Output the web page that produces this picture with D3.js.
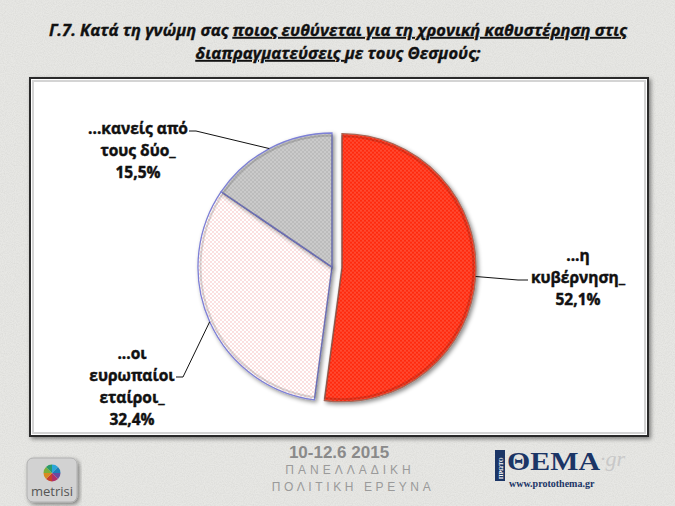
<!DOCTYPE html>
<html>
<head>
<meta charset="utf-8">
<script src="https://cdn.jsdelivr.net/npm/d3@7"></script>
<style>
  body { margin: 0; background: #e6e6e3; }
  svg { display: block; }
</style>
</head>
<body>
<div id="chart"></div>
<script>
// data
var categories = ["...η κυβέρνηση_", "...οι ευρωπαίοι εταίροι_", "...κανείς από τους δύο_"];
var values = [52.1, 32.4, 15.5];
var labelLines = [["...η", "κυβέρνηση_"], ["...οι", "ευρωπαίοι", "εταίροι_"], ["...κανείς από", "τους δύο_"]];
var sliceFills = ["url(#dotsRed)", "url(#dotsWhite)", "url(#dotsGray)"];
var sliceStrokes = ["#a86656", "#7d80d6", "#7d80d6"];

var width = 675, height = 506;
var cx = 332, cy = 267, radius = 134;

var grLocale = d3.formatLocale({decimal: ",", thousands: ".", grouping: [3], currency: ["", "€"]});
var pct = function(v) { return grLocale.format(".1f")(v) + "%"; };

var svg = d3.select("#chart").append("svg")
  .attr("width", width)
  .attr("height", height);

var defs = svg.append("defs");

// paper-like background noise
var noise = defs.append("filter").attr("id", "noise").attr("x", 0).attr("y", 0).attr("width", "100%").attr("height", "100%");
noise.append("feTurbulence").attr("type", "fractalNoise").attr("baseFrequency", 0.9).attr("numOctaves", 2).attr("seed", 3);
noise.append("feColorMatrix").attr("type", "matrix")
  .attr("values", "0 0 0 0 0.55  0 0 0 0 0.55  0 0 0 0 0.53  0 0 0 0.9 -0.3");

var shadow = defs.append("filter").attr("id", "shadow").attr("x", "-10%").attr("y", "-10%").attr("width", "120%").attr("height", "120%");
shadow.append("feDropShadow").attr("dx", 2).attr("dy", 2).attr("stdDeviation", 2).attr("flood-color", "#000").attr("flood-opacity", 0.45);

function dotPattern(id, base, dot, r) {
  var p = defs.append("pattern").attr("id", id)
    .attr("patternUnits", "userSpaceOnUse").attr("width", 4).attr("height", 4);
  p.append("rect").attr("width", 4).attr("height", 4).attr("fill", base);
  p.append("circle").attr("cx", 1).attr("cy", 1).attr("r", r).attr("fill", dot);
  p.append("circle").attr("cx", 3).attr("cy", 3).attr("r", r).attr("fill", dot);
}
dotPattern("dotsRed", "#ff2a10", "#ff7460", 0.8);
dotPattern("dotsWhite", "#ffffff", "#f4a6a6", 0.65);
dotPattern("dotsGray", "#bcbcbc", "#dcdcdc", 0.8);

svg.append("rect").attr("width", width).attr("height", height).attr("fill", "#e7e7e4");
svg.append("rect").attr("width", width).attr("height", height).attr("filter", "url(#noise)").attr("opacity", 0.6);

// title
var title = svg.append("text")
  .attr("text-anchor", "middle")
  .style("font-family", "'Open Sans', sans-serif")
  .style("font-weight", "bold")
  .style("font-style", "italic")
  .style("font-size", "16px")
  .attr("fill", "#111")
  .attr("stroke", "#111")
  .attr("stroke-width", 0.35);

var t1 = title.append("tspan").attr("x", 338).attr("y", 36);
t1.append("tspan").text("Γ.7. Κατά τη γνώμη σας ");
t1.append("tspan").style("text-decoration", "underline").text("ποιος ευθύνεται για τη χρονική καθυστέρηση στις");
var t2 = title.append("tspan").attr("x", 338).attr("y", 59);
t2.append("tspan").style("text-decoration", "underline").text("διαπραγματεύσεις ");
t2.append("tspan").text("με τους Θεσμούς;");

// fit the first title line to the width seen in the picture
var w1 = t1.node().getComputedTextLength();
title.style("font-size", (16 * 578 / w1).toFixed(2) + "px");

// chart frame
svg.append("rect")
  .attr("x", 30).attr("y", 78).attr("width", 618).attr("height", 358)
  .attr("fill", "#fff")
  .attr("stroke", "#2a2a2a").attr("stroke-width", 2)
  .attr("filter", "url(#shadow)");
svg.append("rect")
  .attr("x", 33).attr("y", 81).attr("width", 612).attr("height", 352)
  .attr("fill", "none")
  .attr("stroke", "#d4d4d4").attr("stroke-width", 2);

// pie
var pie = d3.pie().sort(null).value(function(d) { return d; });
var arcs = pie(values);
var arc = d3.arc().innerRadius(0).outerRadius(radius);
var innerArc = d3.arc().innerRadius(0).outerRadius(radius - 2.5);
var explode = [10, 0, 0];

var pieG = svg.append("g").attr("transform", "translate(" + cx + "," + cy + ")");

var slices = pieG.selectAll(".slice")
  .data(arcs)
  .enter().append("g")
  .attr("class", "slice")
  .attr("transform", function(d, i) {
    var a = (d.startAngle + d.endAngle) / 2;
    return "translate(" + (Math.sin(a) * explode[i]) + "," + (-Math.cos(a) * explode[i]) + ")";
  });

slices.append("path")
  .attr("d", arc)
  .attr("fill", function(d, i) { return sliceFills[i]; })
  .attr("stroke", function(d, i) { return sliceStrokes[i]; })
  .attr("stroke-width", 1.3)
  .attr("filter", "url(#shadow)");

slices.append("path")
  .attr("d", innerArc)
  .attr("fill", "none")
  .attr("stroke", "#000")
  .attr("stroke-opacity", 0.15)
  .attr("stroke-width", 2);

// labels with leader lines
var labelX = [578, 132, 138];
var labelY = [261, 359, 134];
var elbows = [[[518, 280], [528, 280]], [[183, 377], [176, 377]], [[196, 131], [189, 131]]];

var labelG = svg.append("g")
  .style("font-family", "'Open Sans', sans-serif")
  .style("font-weight", "bold")
  .style("font-size", "15.5px")
  .attr("fill", "#111")
  .attr("stroke", "#111")
  .attr("stroke-width", 0.45);

arcs.forEach(function(d, i) {
  var a = (d.startAngle + d.endAngle) / 2;
  var sx = cx + Math.sin(a) * (radius + explode[i]);
  var sy = cy - Math.cos(a) * (radius + explode[i]);
  var pts = [[sx, sy]].concat(elbows[i]);
  svg.append("path")
    .attr("d", d3.line()(pts))
    .attr("fill", "none")
    .attr("stroke", "#111")
    .attr("stroke-width", 1);

  var lines = labelLines[i].concat([pct(values[i])]);
  var t = labelG.append("text").attr("text-anchor", "middle");
  lines.forEach(function(s, j) {
    t.append("tspan").attr("x", labelX[i]).attr("y", labelY[i] + j * 22).text(s);
  });
});

// footer
var foot = svg.append("g").attr("fill", "#8a8a8a").style("font-family", "'Liberation Sans', Arial, sans-serif");
foot.append("text").attr("x", 339).attr("y", 458).attr("text-anchor", "middle")
  .style("font-weight", "bold").style("font-size", "17px").text("10-12.6 2015");
foot.append("text").attr("x", 350).attr("y", 474).attr("text-anchor", "middle")
  .style("font-size", "12px").style("letter-spacing", "4px").attr("fill", "#9a9a9a").text("ΠΑΝΕΛΛΑΔΙΚΗ");
foot.append("text").attr("x", 353).attr("y", 491).attr("text-anchor", "middle")
  .style("font-size", "12px").style("letter-spacing", "3.6px").attr("fill", "#9a9a9a").text("ΠΟΛΙΤΙΚΗ ΕΡΕΥΝΑ");

// metrisi logo
var logo = svg.append("g");
logo.append("rect").attr("x", 27).attr("y", 458).attr("width", 50).attr("height", 44).attr("rx", 6)
  .attr("fill", "#d2d2d2").attr("stroke", "#b0b0b0").attr("filter", "url(#shadow)");
var wheel = ["#2aa5d8", "#1d7fb9", "#6b4aa0", "#b0306a", "#c8402a", "#d88a20", "#7cae3a", "#2a9a6a"];
var wheelArcs = d3.pie().value(1).sort(null)(wheel);
logo.append("g").attr("transform", "translate(52,473)")
  .selectAll("path").data(wheelArcs).enter().append("path")
  .attr("d", d3.arc().innerRadius(0).outerRadius(8.5))
  .attr("fill", function(d) { return d.data; });
logo.append("text").attr("x", 52).attr("y", 496).attr("text-anchor", "middle")
  .style("font-family", "'Open Sans', sans-serif").style("font-size", "13px").attr("fill", "#555").text("metrisi");

// protothema logo
var pt = svg.append("g");
pt.append("rect").attr("x", 495).attr("y", 450).attr("width", 10).attr("height", 31).attr("fill", "#1b3566");
pt.append("text").attr("transform", "translate(502.5,479) rotate(-90)")
  .style("font-family", "'Liberation Serif', serif").style("font-weight", "bold").style("font-size", "6px")
  .attr("fill", "#fff").text("ΠΡΩΤΟ");
pt.append("text").attr("x", 507).attr("y", 470)
  .attr("textLength", 93).attr("lengthAdjust", "spacingAndGlyphs")
  .style("font-family", "'Liberation Serif', serif").style("font-weight", "bold").style("font-size", "26px")
  .attr("fill", "#1b3566").text("ΘΕΜΑ");
pt.append("text").attr("x", 600).attr("y", 466)
  .style("font-family", "'Liberation Serif', serif").style("font-style", "italic").style("font-size", "22px")
  .attr("fill", "#c8c8c8").text("·gr");
pt.append("text").attr("x", 509).attr("y", 487)
  .style("font-family", "'Liberation Serif', serif").style("font-weight", "bold").style("font-size", "10px")
  .attr("fill", "#1b3566").text("www.protothema.gr");
</script>
</body>
</html>
